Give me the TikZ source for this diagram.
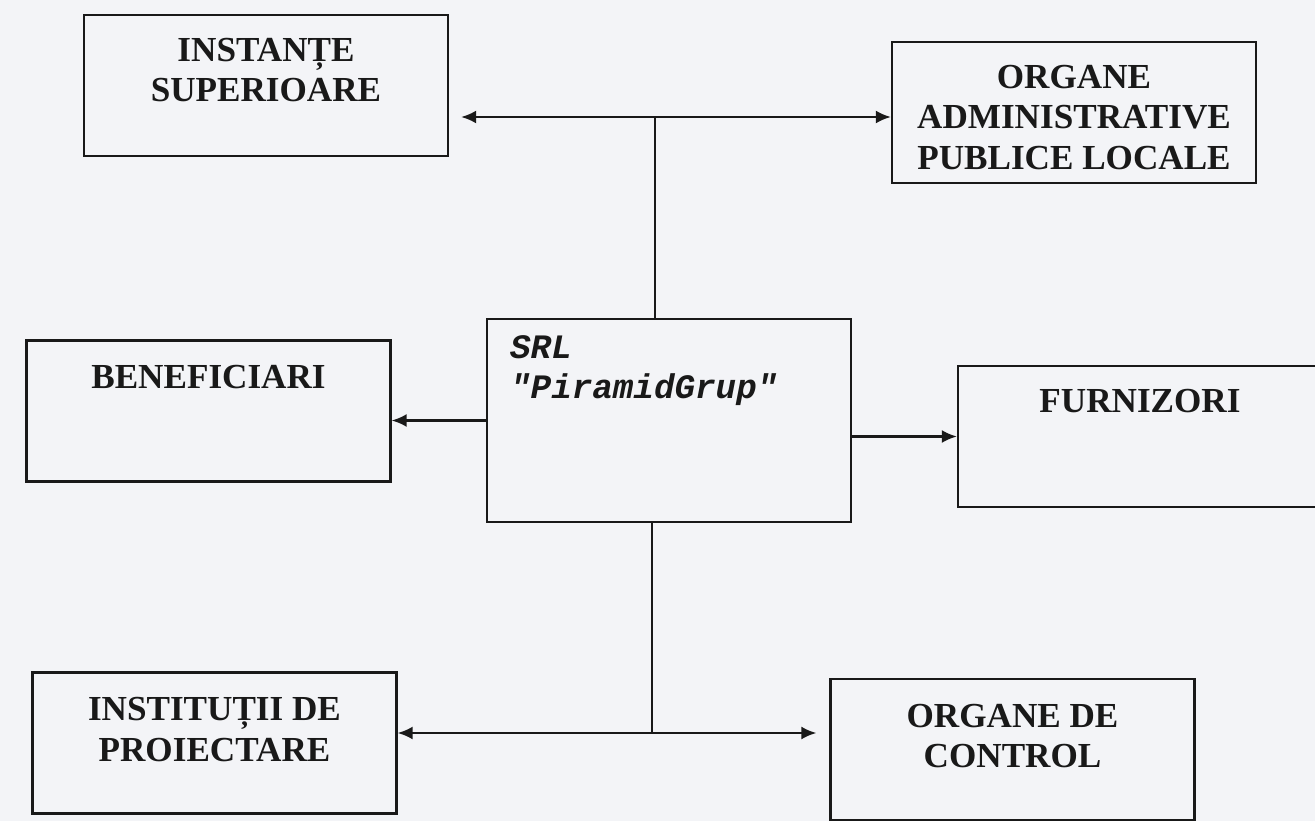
\documentclass[tikz,border=0pt]{standalone}
\usepackage{fontspec}
\setmainfont{Liberation Serif}
\newfontfamily\firmfont{Liberation Mono}
\usetikzlibrary{positioning, math, arrows.meta}
\definecolor{paper}{RGB}{243,244,247}
\definecolor{ink}{RGB}{25,25,25}
\tikzset{
box/.style={draw=ink, line width=1.4pt, rectangle, minimum width=7.28cm, minimum height=2.82cm, inner sep=0pt},
boxtext/.style={inner sep=0pt, align=center, text=ink, font=\fontsize{20}{23}\selectfont\bfseries},
firmtext/.style={inner sep=0pt, align=left, text=ink, font=\firmfont\fontsize{19.5}{23}\selectfont\bfseries\itshape},
link/.style={draw=ink, line width=1.2pt},
arr/.style={link, -{Latex[length=3mm, width=2.6mm]}},
}

\begin{document}
\begin{tikzpicture}[x=0.02cm, y=-0.02cm]
    \tikzmath{ \gap=0.48; };  % distance from box top to its text, in cm

    \useasboundingbox (0,0) rectangle (1315,821);
    \fill[paper] (0,0) rectangle (1315,821);
    \clip (0,0) rectangle (1315,821);

    %boxes on top
    \node[box] (sup)   at (266,85.5)  { };
    \node[box] (admin) at (1074,112.5) { };

    %middle row
    \node[box]                       (benef) at (208.5,411) { };
    \node[box, minimum height=4.06cm] (srl)   at (669,420.5) { };
    \node[box]                       (furn)  at (1140,436.5) { };

    %bottom row
    \node[box] (inst)    at (214.5,743)  { };
    \node[box] (control) at (1012.5,749.5) { };

    %texts
    \node[boxtext, below=\gap cm of sup.north]     (supT)     {INSTANȚE\\SUPERIOARE};
    \node[boxtext, below=\gap cm of admin.north]   (adminT)   {ORGANE\\ADMINISTRATIVE\\PUBLICE LOCALE};
    \node[boxtext, below=0.52cm of benef.north]    (benefT)   {BENEFICIARI};
    \node[boxtext, below=\gap cm of furn.north]    (furnT)    {FURNIZORI};
    \node[boxtext, below=0.52cm of inst.north]     (instT)    {INSTITUȚII DE\\PROIECTARE};
    \node[boxtext, below=0.52cm of control.north]  (controlT) {ORGANE DE\\CONTROL};
    \node[firmtext, below right=0.34cm and 0.48cm of srl.north west] (srlT) {SRL\\"PiramidGrup"};

    %joints of the connectors
    \coordinate (topjoin) at (655,117);
    \coordinate (botjoin) at (652,733);
    \coordinate (supend)  at ([xshift=0.24cm]sup.east |- topjoin);
    \coordinate (ctrlend) at ([xshift=-0.26cm]control.west |- botjoin);

    % upper lines
    \draw[link] (srl.north -| topjoin)--(topjoin);
    \draw[arr]  (topjoin)--(supend);
    \draw[arr]  (topjoin)--(admin.west |- topjoin);

    % side lines
    \draw[arr] (srl.west)--(srl.west -| benef.east);
    \draw[arr] (srl.east |- furn.west)--(furn.west);

    % lower lines
    \draw[link] (srl.south -| botjoin)--(botjoin);
    \draw[arr]  (botjoin)--(inst.east |- botjoin);
    \draw[arr]  (botjoin)--(ctrlend);

\end{tikzpicture}
\end{document}
